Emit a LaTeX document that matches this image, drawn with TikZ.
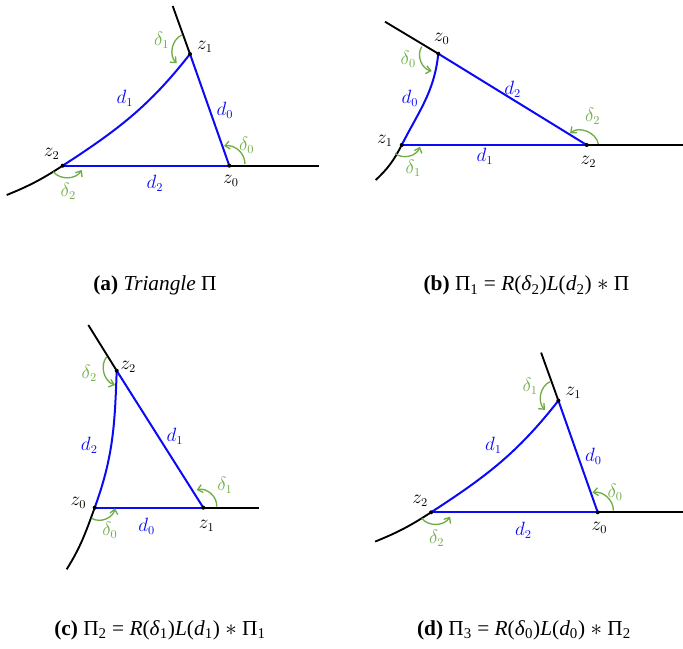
\documentclass[tikz,border=0pt]{standalone}
\usepackage{fontspec}
\setmainfont{Liberation Serif}
\usetikzlibrary{arrows.meta}
\definecolor{dgreen}{RGB}{112,173,71}
\definecolor{dblue}{RGB}{10,10,245}
\tikzset{
  side/.style={dblue, line width=1.5pt},
  ext/.style={black, line width=1.4pt},
  turn/.style={dgreen, line width=1pt, -{Straight Barb[length=3.5pt,width=6pt]}},
  zl/.style={black, inner sep=0pt, font=\fontsize{13.5}{15}\selectfont},
  dl/.style={dblue, inner sep=0pt, font=\fontsize{13.5}{15}\selectfont},
  gl/.style={dgreen, inner sep=0pt, font=\fontsize{13.5}{15}\selectfont},
  capt/.style={anchor=base, inner sep=0pt, font=\fontsize{16}{18}\selectfont},
}
\newcommand\panelAD[1]{%
  \coordinate (#1z0) at (229.3,-165.7);
  \coordinate (#1z1) at (190,-54);
  \coordinate (#1z2) at (62.7,-165.7);
  \coordinate (#1er) at (319,-165.7);
  \coordinate (#1et) at (172.7,-6);
  \coordinate (#1el) at (6.7,-195);
  \draw[ext] (#1z0) -- (#1er);
  \draw[ext] (#1z1) -- (#1et);
  \draw[ext] (#1z2) to[out=213,in=22] (#1el);
  \draw[side] (#1z0) -- (#1z1);
  \draw[side] (#1z2) -- (#1z0);
  \draw[side] (#1z2) to[out=33,in=232] (#1z1);
  \foreach \v in {z0,z1,z2} \fill (#1\v) circle (1.5pt);
  \draw[turn] (245,-164) to[bend right=50] (224,-146);
  \draw[turn] (181.7,-35) to[bend right=55] (176.7,-63.3);
  \draw[turn] (53.3,-171.7) to[bend right=55] (81.7,-170);
  \node[zl] (#1lz1) at (205,-46.7) {$z_1$};
  \node[zl] (#1lz0) at (231,-181) {$z_0$};
  \node[zl] (#1lz2) at (51.7,-154) {$z_2$};
  \node[dl] (#1ld0) at (225,-110) {$d_0$};
  \node[dl] (#1ld1) at (125,-98.3) {$d_1$};
  \node[dl] (#1ld2) at (155,-183.3) {$d_2$};
  \node[gl] (#1lt0) at (246.7,-145.7) {$\delta_0$};
  \node[gl] (#1lt1) at (161.7,-40) {$\delta_1$};
  \node[gl] (#1lt2) at (68.3,-191.7) {$\delta_2$};
}
\begin{document}
\begin{tikzpicture}[x=0.75pt,y=0.75pt]
\useasboundingbox (0,0) rectangle (683,-649);
% ---- panel (a)
\panelAD{a}
% ---- panel (b)
\coordinate (bz0) at (438.3,-53.7);
\coordinate (bz1) at (401.7,-145);
\coordinate (bz2) at (586.7,-145);
\coordinate (ber) at (683,-145);
\coordinate (bet) at (385,-21.7);
\coordinate (bel) at (375.7,-180);
\draw[ext] (bz2) -- (ber);
\draw[ext] (bz0) -- (bet);
\draw[ext] (bz1) to[out=243,in=43] (bel);
\draw[side] (bz0) -- (bz2);
\draw[side] (bz1) -- (bz2);
\draw[side] (bz0) to[out=264,in=63] (bz1);
\foreach \v in {bz0,bz1,bz2} \fill (\v) circle (1.5pt);
\draw[turn] (421.7,-46.7) to[bend right=55] (431.7,-71);
\draw[turn] (395,-153.3) to[bend right=55] (420,-146.7);
\draw[turn] (598.3,-144) to[bend right=60] (570,-133.3);
\node[zl] (blz0) at (441.7,-39.3) {$z_0$};
\node[zl] (blz1) at (385,-140.7) {$z_1$};
\node[zl] (blz2) at (588.3,-161.7) {$z_2$};
\node[dl] (bld2) at (512.7,-89.3) {$d_2$};
\node[dl] (bld0) at (410,-98.3) {$d_0$};
\node[dl] (bld1) at (485,-156.7) {$d_1$};
\node[gl] (blt0) at (408.3,-59.3) {$\delta_0$};
\node[gl] (blt1) at (413.3,-168.3) {$\delta_1$};
\node[gl] (blt2) at (592.7,-116.7) {$\delta_2$};
% ---- panel (c)
\coordinate (cz0) at (94.7,-507.7);
\coordinate (cz1) at (203.3,-507.7);
\coordinate (cz2) at (116.7,-370.7);
\coordinate (cer) at (259,-507.7);
\coordinate (cet) at (88.3,-325);
\coordinate (cel) at (66.7,-569.3);
\draw[ext] (cz1) -- (cer);
\draw[ext] (cz2) -- (cet);
\draw[ext] (cz0) to[out=250,in=58] (cel);
\draw[side] (cz2) -- (cz1);
\draw[side] (cz0) -- (cz1);
\draw[side] (cz2) to[out=268,in=70] (cz0);
\foreach \v in {cz0,cz1,cz2} \fill (\v) circle (1.5pt);
\draw[turn] (106.7,-356.7) to[bend right=55] (115,-385);
\draw[turn] (91.7,-518.3) to[bend right=55] (115,-508.3);
\draw[turn] (216.7,-506.7) to[bend right=55] (196.7,-490);
\node[zl] (clz2) at (128.3,-366.7) {$z_2$};
\node[zl] (clz0) at (78.3,-502.7) {$z_0$};
\node[zl] (clz1) at (206.7,-526) {$z_1$};
\node[dl] (cld2) at (89.3,-445) {$d_2$};
\node[dl] (cld1) at (175,-436.7) {$d_1$};
\node[dl] (cld0) at (146.7,-526) {$d_0$};
\node[gl] (clt2) at (89.3,-373.3) {$\delta_2$};
\node[gl] (clt0) at (110,-530) {$\delta_0$};
\node[gl] (clt1) at (225,-485) {$\delta_1$};
% ---- panel (d)
\begin{scope}[shift={(368.4,-346.6)}]
\panelAD{d}
\end{scope}
% ---- captions
\node[capt] (capa) at (155,-290.7) {\textbf{(a)} \textit{Triangle} Π};
\node[capt] (capb) at (526.5,-290.7) {\textbf{(b)} Π\textsubscript{1} = \textit{R}(\textit{δ}\textsubscript{2})\textit{L}(\textit{d}\textsubscript{2}) $\ast$ Π};
\node[capt] (capc) at (160,-635) {\textbf{(c)} Π\textsubscript{2} = \textit{R}(\textit{δ}\textsubscript{1})\textit{L}(\textit{d}\textsubscript{1}) $\ast$ Π\textsubscript{1}};
\node[capt] (capd) at (524,-635) {\textbf{(d)} Π\textsubscript{3} = \textit{R}(\textit{δ}\textsubscript{0})\textit{L}(\textit{d}\textsubscript{0}) $\ast$ Π\textsubscript{2}};
\end{tikzpicture}
\end{document}
